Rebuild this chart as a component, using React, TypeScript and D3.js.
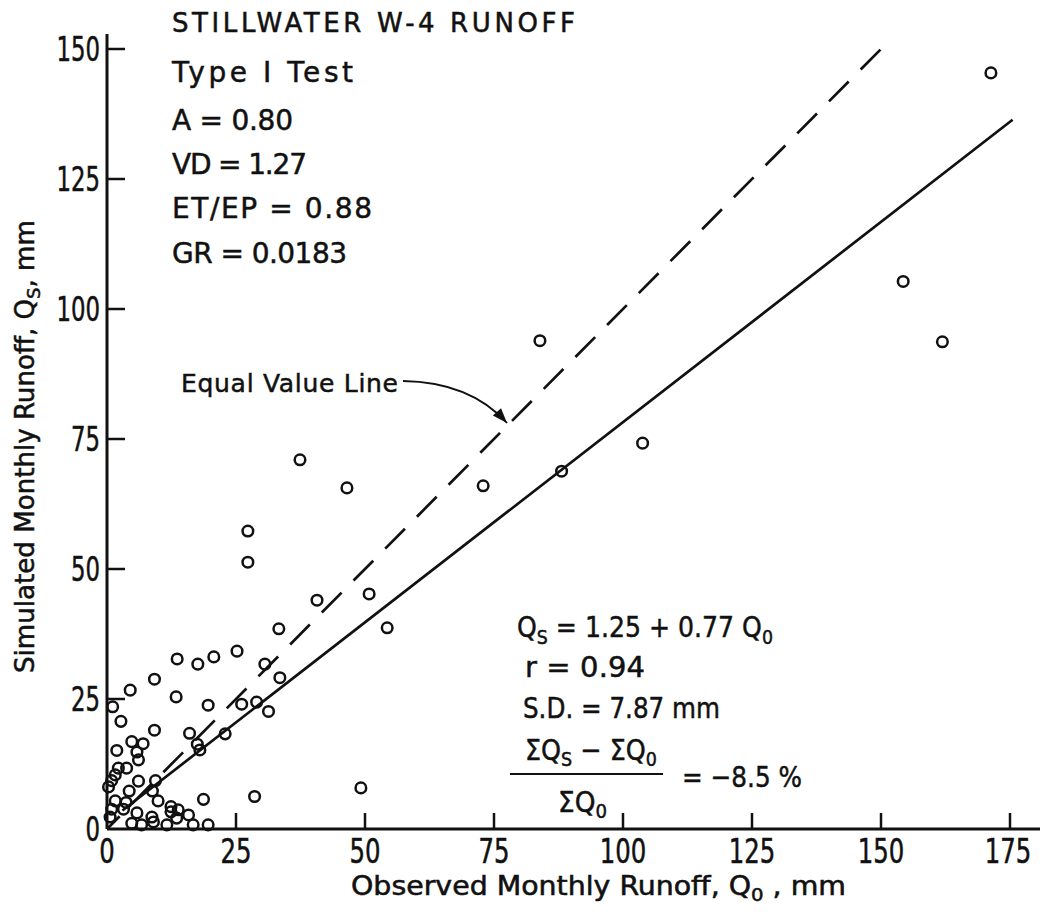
import React from 'react';
import * as d3 from 'd3';

// observed (Qo) and simulated (Qs) monthly runoff, mm
const observed = [
  171.3, 154.3, 161.9, 83.9, 103.8, 88.1, 72.9, 37.4, 46.5, 27.3,
  27.3, 40.7, 50.8, 54.3, 33.3, 25.2, 20.7, 30.6, 33.5, 17.6,
  13.6, 9.2, 4.5, 1.1, 2.7, 13.4, 19.6, 26.1, 29.0, 31.3,
  9.2, 16.0, 22.9, 4.8, 7.0, 17.5, 18.0, 1.9, 5.8, 6.1,
  2.2, 3.8, 1.6, 0.9, 0.3, 6.1, 9.4, 4.3, 8.8, 9.9,
  1.6, 3.7, 18.7, 28.6, 0.9, 3.2, 5.8, 12.4, 12.4, 13.8,
  15.8, 0.6, 8.7, 9.0, 4.8, 6.7, 11.6, 13.5, 16.7, 19.6,
  49.2,
];
const simulated = [
  145.4, 105.3, 93.7, 93.9, 74.2, 68.8, 66.0, 71.0, 65.6, 57.3,
  51.3, 44.0, 45.2, 38.7, 38.5, 34.2, 33.1, 31.7, 29.1, 31.7,
  32.7, 28.8, 26.7, 23.5, 20.7, 25.4, 23.8, 24.0, 24.4, 22.6,
  19.0, 18.4, 18.3, 16.8, 16.4, 16.3, 15.2, 15.1, 14.8, 13.3,
  11.7, 11.7, 10.4, 9.3, 8.1, 9.2, 9.3, 7.3, 7.3, 5.4,
  5.4, 5.1, 5.7, 6.25, 3.8, 3.8, 3.1, 4.3, 3.3, 3.7,
  2.7, 2.3, 2.3, 1.35, 1.1, 0.8, 0.8, 2.1, 0.8, 0.8,
  7.9,
];

const xTicks = [0, 25, 50, 75, 100, 125, 150, 175];
const yTicks = [0, 25, 50, 75, 100, 125, 150];

// regression Qs = 1.25 + 0.77 Qo
const regA = 1.25;
const regB = 0.77;
const regRange = [3, 175.5];
const equalRange = [0, 152];

const infoLines = ['Type I Test', 'A = 0.80', 'VD = 1.27', 'ET/EP = 0.88', 'GR = 0.0183'];

const NARROW = "'Liberation Sans Narrow', 'DejaVu Sans Condensed', 'Liberation Sans', sans-serif";
const SANS = "'DejaVu Sans', 'Liberation Sans', sans-serif";
const INK = '#111';

const x = d3.scaleLinear().domain([0, 175]).range([107, 1010]);
const y = d3.scaleLinear().domain([0, 150]).range([829, 49]);

const line = d3
  .line<[number, number]>()
  .x((d) => x(d[0]))
  .y((d) => y(d[1]));

const App = () => {
  const points = observed.map((o, i) => [o, simulated[i]] as [number, number]);
  const regLine = line(regRange.map((v) => [v, regA + regB * v] as [number, number])) ?? '';
  const eqLine = line(equalRange.map((v) => [v, v] as [number, number])) ?? '';

  // arrow from label to the equal value line
  const tip: [number, number] = [507, 423];
  const ctrl: [number, number] = [470, 382];
  const ang = Math.atan2(tip[1] - ctrl[1], tip[0] - ctrl[0]);
  const hl = 15;
  const hw = 5.5;
  const bx = tip[0] - hl * Math.cos(ang);
  const by = tip[1] - hl * Math.sin(ang);
  const head = `M${tip[0]},${tip[1]} L${bx + hw * Math.sin(ang)},${by - hw * Math.cos(ang)} L${bx - hw * Math.sin(ang)},${by + hw * Math.cos(ang)} Z`;

  const infoY = [82, 130, 174, 218, 263];
  const infoW = [181, 121, 135, 200, 175];

  const txt = { fill: INK, stroke: INK, strokeWidth: 0.5 };

  return (
    <svg
      width={1042}
      height={912}
      style={{ position: 'absolute', left: 0, top: 0, background: '#fff' }}
    >
      {/* axes */}
      <line x1={x(0)} x2={1040} y1={y(0)} y2={y(0)} stroke={INK} strokeWidth={3} />
      <line x1={x(0)} x2={x(0)} y1={y(0)} y2={34} stroke={INK} strokeWidth={3} />
      {yTicks.filter((t) => t > 0).map((t) => (
        <line key={`yt${t}`} x1={x(0)} x2={x(0) + 18} y1={y(t)} y2={y(t)} stroke={INK} strokeWidth={2.5} />
      ))}
      {xTicks.filter((t) => t > 0).map((t) => (
        <line key={`xt${t}`} x1={x(t)} x2={x(t)} y1={y(0)} y2={y(0) - 16} stroke={INK} strokeWidth={2.5} />
      ))}
      {yTicks.map((t) => (
        <text
          key={`yl${t}`}
          x={100}
          y={y(t)}
          dy="0.36em"
          textAnchor="end"
          fontFamily={NARROW}
          fontSize={34}
          textLength={String(t).length * 14.5}
          lengthAdjust="spacingAndGlyphs"
          {...txt}
        >
          {t}
        </text>
      ))}
      {xTicks.map((t) => (
        <text
          key={`xl${t}`}
          x={t === 175 ? x(t) - 2 : x(t)}
          y={863}
          textAnchor="middle"
          fontFamily={NARROW}
          fontSize={34}
          textLength={String(t).length * 15.5}
          lengthAdjust="spacingAndGlyphs"
          {...txt}
        >
          {t}
        </text>
      ))}

      {/* axis titles */}
      <text x={351} y={895} fontFamily={NARROW} fontSize={26} textLength={495} lengthAdjust="spacingAndGlyphs" {...txt}>
        Observed Monthly Runoff, Q<tspan dy={6} fontSize={18}>0</tspan>
        <tspan dy={-6}> , mm</tspan>
      </text>
      <text
        transform="translate(34,673) rotate(-90)"
        fontFamily={NARROW}
        fontSize={26}
        textLength={453}
        lengthAdjust="spacingAndGlyphs"
        {...txt}
      >
        Simulated Monthly Runoff, Q<tspan dy={6} fontSize={18}>S</tspan>
        <tspan dy={-6}>, mm</tspan>
      </text>

      {/* equal value and regression lines */}
      <path d={eqLine} fill="none" stroke={INK} strokeWidth={2.7} strokeDasharray="28 17" strokeDashoffset={10} />
      <path d={regLine} fill="none" stroke={INK} strokeWidth={2.7} />

      {/* points */}
      {points.map((p, i) => (
        <circle key={i} cx={x(p[0])} cy={y(p[1])} r={5.3} fill="none" stroke={INK} strokeWidth={2.5} />
      ))}

      {/* header annotations */}
      <text x={172} y={32} fontFamily={SANS} fontSize={26} textLength={403} lengthAdjust="spacing" {...txt}>
        STILLWATER W-4 RUNOFF
      </text>
      {infoLines.map((s, i) => (
        <text
          key={s}
          x={172}
          y={infoY[i]}
          fontFamily={SANS}
          fontSize={28}
          textLength={infoW[i]}
          lengthAdjust="spacing"
          {...txt}
        >
          {s}
        </text>
      ))}

      {/* equal value label + arrow */}
      <text x={181} y={392} fontFamily={SANS} fontSize={25} textLength={217} lengthAdjust="spacing" {...txt}>
        Equal Value Line
      </text>
      <path d={`M403,381 Q${ctrl[0]},${ctrl[1]} ${tip[0]},${tip[1]}`} fill="none" stroke={INK} strokeWidth={1.8} />
      <path d={head} fill={INK} />

      {/* statistics block */}
      <text x={517} y={637} fontFamily={SANS} fontSize={29} textLength={256} lengthAdjust="spacingAndGlyphs" {...txt}>
        Q<tspan dy={7} fontSize={20}>S</tspan>
        <tspan dy={-7}> = 1.25 + 0.77 Q</tspan>
        <tspan dy={7} fontSize={20}>0</tspan>
      </text>
      <text x={525} y={677} fontFamily={SANS} fontSize={29} textLength={120} lengthAdjust="spacing" {...txt}>
        r = 0.94
      </text>
      <text x={523} y={718} fontFamily={SANS} fontSize={29} textLength={197} lengthAdjust="spacingAndGlyphs" {...txt}>
        S.D. = 7.87 mm
      </text>
      <text x={525} y={760} fontFamily={SANS} fontSize={29} textLength={132} lengthAdjust="spacingAndGlyphs" {...txt}>
        ΣQ<tspan dy={6} fontSize={20}>S</tspan>
        <tspan dy={-6}> − ΣQ</tspan>
        <tspan dy={6} fontSize={20}>0</tspan>
      </text>
      <line x1={510} x2={663} y1={774} y2={774} stroke={INK} strokeWidth={2} />
      <text x={558} y={812} fontFamily={SANS} fontSize={29} textLength={49} lengthAdjust="spacingAndGlyphs" {...txt}>
        ΣQ<tspan dy={6} fontSize={20}>0</tspan>
      </text>
      <text x={682} y={787} fontFamily={SANS} fontSize={29} textLength={120} lengthAdjust="spacingAndGlyphs" {...txt}>
        = −8.5 %
      </text>
    </svg>
  );
};

export default App;
